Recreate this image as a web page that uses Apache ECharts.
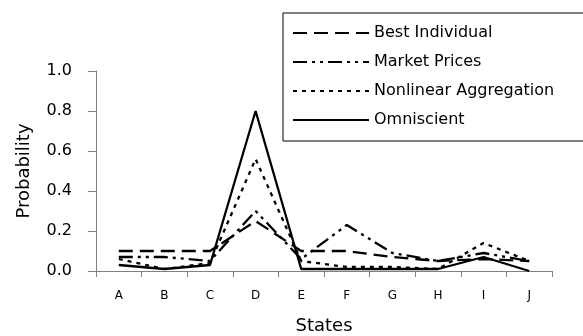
<!DOCTYPE html>
<html><head><meta charset="utf-8">
<script src="https://cdn.jsdelivr.net/npm/echarts@6/dist/echarts.min.js"></script>
<style>html,body{margin:0;padding:0;background:#fff}#c{width:583px;height:336px}</style>
</head><body><div id="c"></div>
<script>
const categories = ['A','B','C','D','E','F','G','H','I','J'];
const bestIndividual = [0.10,0.10,0.10,0.25,0.10,0.10,0.07,0.05,0.06,0.05];
const marketPrices   = [0.07,0.07,0.05,0.30,0.06,0.23,0.09,0.05,0.09,0.05];
const nonlinearAgg   = [0.06,0.01,0.04,0.56,0.05,0.02,0.02,0.01,0.14,0.05];
const omniscient     = [0.03,0.01,0.03,0.80,0.01,0.01,0.01,0.01,0.07,0.00];
const seriesNames = ['Best Individual','Market Prices','Nonlinear Aggregation','Omniscient'];
const yTicks = [0.0,0.2,0.4,0.6,0.8,1.0];

const font = 'DejaVu Sans';
const chart = echarts.init(document.getElementById('c'));
function mk(name, data, type) {
  return { name, type: 'line', data, symbol: 'none', animation: false,
    lineStyle: { color: '#000', width: 2.3, type } , itemStyle: {color:'#000'} };
}
chart.setOption({
  animation: false,
  textStyle: { fontFamily: font, color: '#000' },
  grid: { left: 96, right: 31, top: 71, bottom: 65, outerBoundsMode: 'none', containLabel: false },
  legend: {
    orient: 'vertical', left: 283, top: 13, selectedMode: false,
    itemWidth: 76, itemHeight: 14, itemGap: 13,
    padding: [12, 34, 13, 9],
    borderColor: '#000', borderWidth: 1, backgroundColor: '#fff',
    itemStyle: { opacity: 0 },
    textStyle: { fontFamily: font, fontSize: 16, color: '#000' },
    data: seriesNames
  },
  xAxis: {
    type: 'category', data: categories, boundaryGap: true,
    name: 'States', nameLocation: 'middle', nameGap: 46,
    nameTextStyle: { fontFamily: font, fontSize: 18, color: '#000' },
    axisLine: { lineStyle: { color: '#808080', width: 1 } },
    axisTick: { show: true, length: 6, lineStyle: { color: '#808080' } },
    axisLabel: { fontFamily: font, fontSize: 12, color: '#000', margin: 19 },
    splitLine: { show: false }
  },
  yAxis: {
    type: 'value', min: 0, max: 1, interval: 0.2,
    name: 'Probability', nameLocation: 'middle', nameGap: 63,
    nameTextStyle: { fontFamily: font, fontSize: 18, color: '#000' },
    axisLine: { show: true, lineStyle: { color: '#808080', width: 1 } },
    axisTick: { show: true, length: 8, lineStyle: { color: '#808080' } },
    axisLabel: { fontFamily: font, fontSize: 16, color: '#000', margin: 24,
      formatter: v => { const t = yTicks.find(x => Math.abs(x - v) < 1e-9); return (t !== undefined ? t : v).toFixed(1); } },
    splitLine: { show: false }
  },
  series: [
    mk(seriesNames[0], bestIndividual, [14, 7]),
    mk(seriesNames[1], marketPrices, [14, 5, 3, 5, 3, 5]),
    mk(seriesNames[2], nonlinearAgg, [4, 5]),
    mk(seriesNames[3], omniscient, 'solid')
  ]
});
</script></body></html>
